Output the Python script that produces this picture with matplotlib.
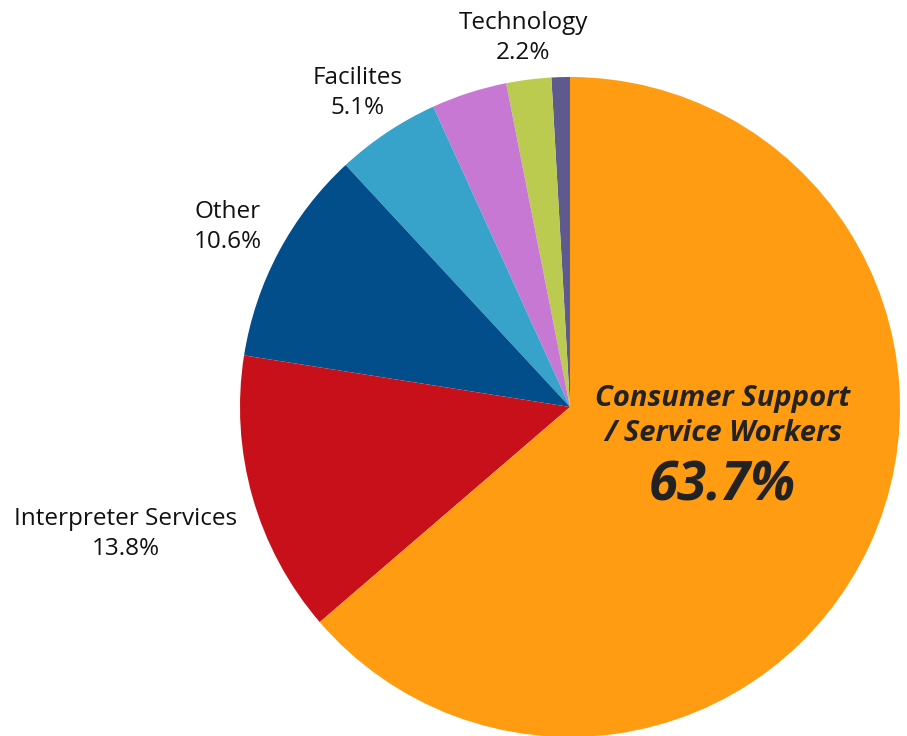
import matplotlib
matplotlib.use("Agg")
import matplotlib.pyplot as plt

# slices, counter-clockwise from 12 o'clock
labels = ["", "Technology", "", "Facilites", "Other", "Interpreter Services", "Consumer Support / Service Workers"]
values = [0.9, 2.2, 3.7, 5.1, 10.6, 13.8, 63.7]
colors = ["#5f5a8e", "#bbcb4f", "#c678d3", "#37a3cb", "#024e8a", "#c8101a", "#ff9c12"]

W, H = 907, 736
cx, cy, R = 570, 407, 330

fig = plt.figure(figsize=(W / 100, H / 100), dpi=100)
ax = fig.add_axes([(cx - R) / W, (H - cy - R) / H, 2 * R / W, 2 * R / H])
ax.pie(values, colors=colors, startangle=90, counterclock=True, radius=1,
       wedgeprops=dict(linewidth=0))
ax.set_xlim(-1, 1)
ax.set_ylim(-1, 1)
ax.set_aspect("equal")
ax.axis("off")


def px(x, y):
    return (x - cx) / R, (cy - y) / R


font = "Open Sans"
outside = [
    ("Technology\n2.2%", 523, 38),
    ("Facilites\n5.1%", 358, 93),
    ("Other\n10.6%", 228, 227),
    ("Interpreter Services\n13.8%", 126, 534),
]
for txt, x, y in outside:
    ax.text(*px(x, y), txt, ha="center", va="center", fontsize=17.5,
            family=font, color="#111111", linespacing=1.3, clip_on=False)

ax.text(*px(723, 416), "Consumer Support\n/ Service Workers", ha="center", va="center",
        fontsize=21, family=font, weight="bold", style="italic", color="#222222",
        linespacing=1.25)
ax.text(*px(722, 487), "63.7%", ha="center", va="center", fontsize=38,
        family=font, weight="bold", style="italic", color="#222222")

fig.savefig("out.png", dpi=100)
